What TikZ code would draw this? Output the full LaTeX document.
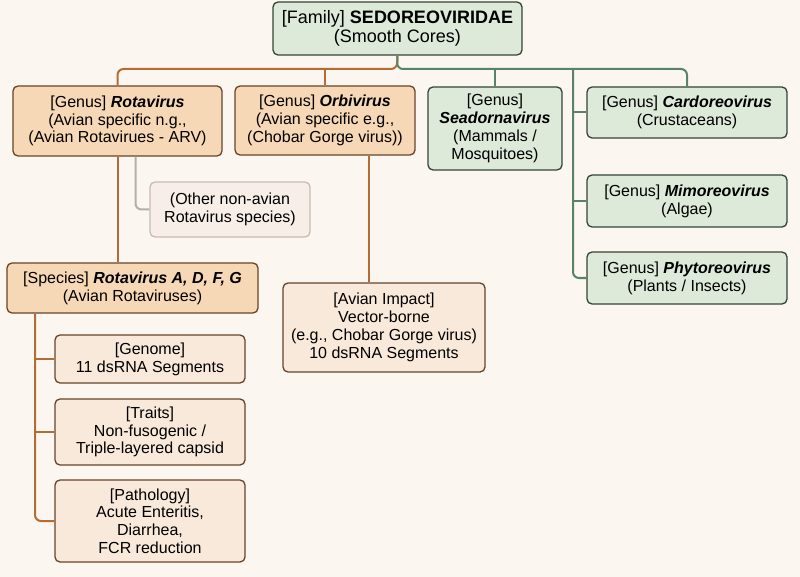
\documentclass[tikz,border=0pt]{standalone}
\usepackage{fontspec}
\setmainfont{Liberation Sans}
\usetikzlibrary{calc, positioning}
\definecolor{bgcream}{RGB}{251, 247, 240}
\definecolor{genusFill}{RGB}{247, 216, 182}
\definecolor{paleFill}{RGB}{248, 233, 218}
\definecolor{otherFill}{RGB}{246, 238, 231}
\definecolor{greenFill}{RGB}{221, 233, 217}
\definecolor{brownEdge}{RGB}{104, 68, 40}
\definecolor{greenEdge}{RGB}{52, 68, 54}
\definecolor{grayEdge}{RGB}{198, 188, 178}
\definecolor{orangeLine}{RGB}{180, 108, 54}
\definecolor{greenLine}{RGB}{90, 130, 102}
\definecolor{grayLine}{RGB}{178, 176, 172}
\newcommand{\gname}[1]{\textbf{\textit{#1}}}

\begin{document}
\begin{tikzpicture}[x=1pt, y=-1pt,
    basebox/.style={rounded corners=5pt, line width=1.3pt, align=center, inner sep=2pt,
                    font=\fontsize{16}{17.8}\selectfont},
    orangebox/.style={basebox, fill=genusFill, draw=brownEdge},
    palebox/.style={basebox, fill=paleFill, draw=brownEdge},
    otherbox/.style={basebox, fill=otherFill, draw=grayEdge},
    greenbox/.style={basebox, fill=greenFill, draw=greenEdge},
    famfont/.style={font=\fontsize{18}{19}\selectfont},
    orangeline/.style={draw=orangeLine, line width=2pt, rounded corners=6pt},
    greenline/.style={draw=greenLine, line width=2pt, rounded corners=6pt},
    grayline/.style={draw=grayLine, line width=2pt, rounded corners=6pt}]
  % background and frame
  \fill[bgcream] (0,0) rectangle (800,577);
  \useasboundingbox (0,0) rectangle (800,577);

  % --- Family ---
  \node[greenbox, famfont, minimum width=249pt, minimum height=53pt] (fam) at (397.5,28.5)
    {[Family] \textbf{SEDOREOVIRIDAE}\\(Smooth Cores)};

  % --- Genera ---
  \node[orangebox, minimum width=209pt, minimum height=70pt] (rota) at (117.5,121)
    {[Genus] \gname{Rotavirus}\\(Avian specific n.g.,\\(Avian Rotavirues - ARV)};
  \node[orangebox, minimum width=180pt, minimum height=69pt] (orbi) at (325,120.5)
    {[Genus] \gname{Orbivirus}\\(Avian specific e.g.,\\(Chobar Gorge virus))};
  \node[greenbox, minimum width=134pt, minimum height=83pt] (seado) at (495,128.5)
    {[Genus]\\\gname{Seadornavirus}\\(Mammals /\\Mosquitoes)};
  \node[greenbox, minimum width=200pt, minimum height=51pt] (cardo) at (687,112.5)
    {[Genus] \gname{Cardoreovirus}\\(Crustaceans)};
  \node[greenbox, minimum width=200pt, minimum height=52pt] (mimo) at (687,201)
    {[Genus] \gname{Mimoreovirus}\\(Algae)};
  \node[greenbox, minimum width=200pt, minimum height=52pt] (phyto) at (687,278)
    {[Genus] \gname{Phytoreovirus}\\(Plants / Insects)};

  % --- Rotavirus branch ---
  \node[otherbox, minimum width=160pt, minimum height=55pt] (other) at (230,209.5)
    {(Other non-avian\\Rotavirus species)};
  \node[orangebox, minimum width=251pt, minimum height=50pt] (spec) at (132.5,288)
    {[Species] \gname{Rotavirus A, D, F, G}\\(Avian Rotaviruses)};
  \node[palebox, minimum width=190pt, minimum height=48pt] (genome) at (150,359)
    {[Genome]\\11 dsRNA Segments};
  \node[palebox, minimum width=190pt, minimum height=66pt] (traits) at (150,432)
    {[Traits]\\Non-fusogenic /\\Triple-layered capsid};
  \node[palebox, minimum width=190pt, minimum height=82pt] (patho) at (150,521)
    {[Pathology]\\Acute Enteritis,\\Diarrhea,\\FCR reduction};

  % --- Orbivirus branch ---
  \node[palebox, minimum width=202pt, minimum height=89pt] (impact) at (384,327.5)
    {[Avian Impact]\\Vector-borne\\(e.g., Chobar Gorge virus)\\10 dsRNA Segments};

  % --- Connectors ---
  \coordinate (split) at (397,69);
  \coordinate (gtrunk) at (573,69);
  \coordinate (odrop) at (369,0);
  \coordinate (strunk) at (35,0);
  \draw[orangeline] (fam.south) -- (split) -| (rota.north);
  \draw[orangeline] (orbi.north) -- (orbi.north |- split);
  \draw[greenline] (fam.south) -- (split) -| (cardo.north);
  \draw[greenline] (seado.north) -- (seado.north |- split);
  \draw[greenline] (gtrunk) |- (phyto.west);
  \draw[greenline] (gtrunk |- cardo.west) -- (cardo.west);
  \draw[greenline] (gtrunk |- mimo.west) -- (mimo.west);
  \draw[grayline] ([xshift=18pt]rota.south) |- (other.west);
  \draw[orangeline] (rota.south) -- (rota.south |- spec.north);
  \draw[orangeline] (odrop |- orbi.south) -- (odrop |- impact.north);
  \draw[orangeline] (strunk |- spec.south) |- (patho.west);
  \draw[orangeline] (strunk |- genome.west) -- (genome.west);
  \draw[orangeline] (strunk |- traits.west) -- (traits.west);
\end{tikzpicture}
\end{document}
